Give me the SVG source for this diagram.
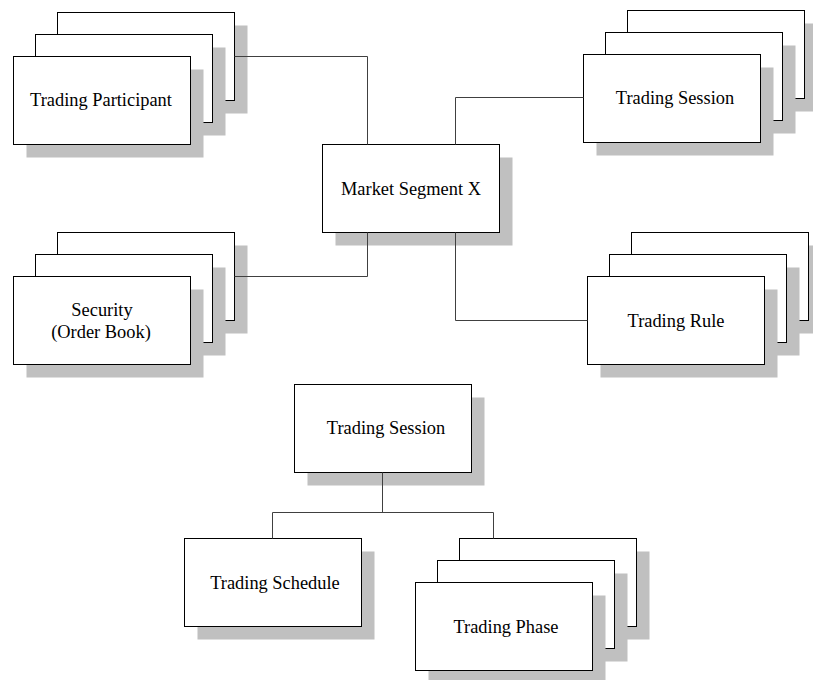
<svg xmlns="http://www.w3.org/2000/svg" width="813" height="680" viewBox="0 0 813 680">
  <defs>
    <style>
      .shadow { fill: #c0c0c0; stroke: none; }
      .card { fill: #ffffff; stroke: #000000; stroke-width: 1; }
      .label { font-family: "Liberation Serif", "Times New Roman", serif; font-size: 18.4px; fill: #000000; text-anchor: middle; }
      .link { fill: none; stroke: #404040; stroke-width: 1; }
    </style>
    <!-- one card with its drop shadow, 177 x 88 -->
    <g id="card">
      <rect class="shadow" x="13" y="13" width="177" height="88"/>
      <rect class="card" x="0" y="0" width="177" height="88"/>
    </g>
    <!-- three cards stacked, offset 22 px up and right -->
    <g id="stack">
      <use href="#card" x="44" y="-44"/>
      <use href="#card" x="22" y="-22"/>
      <use href="#card" x="0" y="0"/>
    </g>
  </defs>

  <rect x="0" y="0" width="813" height="680" fill="#ffffff"/>

  <g id="trading-participant">
    <use href="#stack" x="13.5" y="56.5"/>
    <text class="label" x="101" y="106">Trading Participant</text>
  </g>

  <g id="trading-session-top">
    <use href="#stack" x="583.5" y="54.5"/>
    <text class="label" x="675" y="104">Trading Session</text>
  </g>

  <g id="market-segment-x">
    <use href="#card" x="322.5" y="144.5"/>
    <text class="label" x="411" y="195">Market Segment X</text>
  </g>

  <g id="security">
    <use href="#stack" x="13.5" y="276.5"/>
    <text class="label" x="102" y="316">Security</text>
    <text class="label" x="101" y="338">(Order Book)</text>
  </g>

  <g id="trading-rule">
    <use href="#stack" x="587.5" y="276.5"/>
    <text class="label" x="676" y="327">Trading Rule</text>
  </g>

  <g id="trading-session">
    <use href="#card" x="294.5" y="384.5"/>
    <text class="label" x="386" y="434">Trading Session</text>
  </g>

  <g id="trading-schedule">
    <use href="#card" x="184.5" y="538.5"/>
    <text class="label" x="275" y="589">Trading Schedule</text>
  </g>

  <g id="trading-phase">
    <use href="#stack" x="415.5" y="582.5"/>
    <text class="label" x="506" y="633">Trading Phase</text>
  </g>

  <g id="connectors">
    <polyline class="link" points="234.5,56.5 367.5,56.5 367.5,144.5"/>
    <polyline class="link" points="455.5,144.5 455.5,97.5 583.5,97.5"/>
    <polyline class="link" points="367.5,232.5 367.5,276.5 234.5,276.5"/>
    <polyline class="link" points="455.5,232.5 455.5,320.5 587.5,320.5"/>
    <polyline class="link" points="382.5,472.5 382.5,512.5"/>
    <polyline class="link" points="272.5,538.5 272.5,512.5 493.5,512.5 493.5,538.5"/>
  </g>
</svg>
